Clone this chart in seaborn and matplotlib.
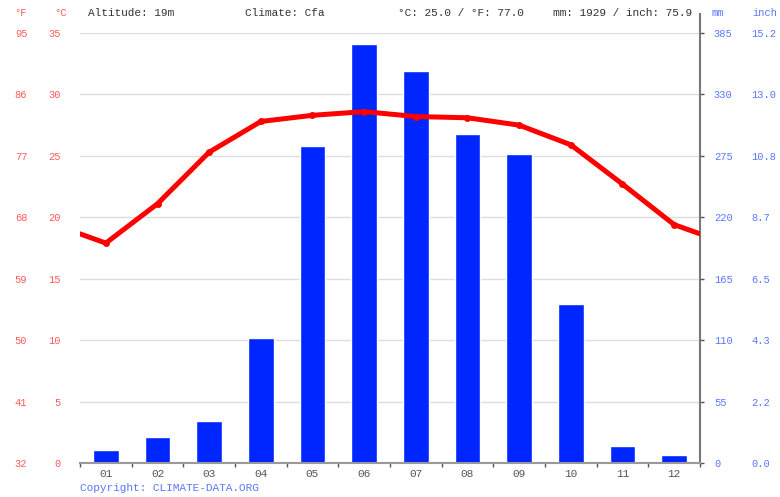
import numpy as np
import pandas as pd
import matplotlib
matplotlib.use("Agg")
import matplotlib.pyplot as plt
import matplotlib.ticker as mticker
import seaborn as sns

# climate chart data
months = ["01", "02", "03", "04", "05", "06", "07", "08", "09", "10", "11", "12"]
precip_mm = [12, 23, 38, 112, 284, 375, 351, 295, 277, 142, 15, 7]
temp_c = [17.9, 21.1, 25.3, 27.8, 28.3, 28.6, 28.2, 28.1, 27.5, 25.9, 22.7, 19.4]

c_ticks = [0, 5, 10, 15, 20, 25, 30, 35]
mm_ticks = [0, 55, 110, 165, 220, 275, 330, 385]

header_left = "Altitude: 19m"
header_climate = "Climate: Cfa"
header_temp = "°C: 25.0 / °F: 77.0"
header_rain = "mm: 1929 / inch: 75.9"
copyright_txt = "Copyright: CLIMATE-DATA.ORG"

RED = "#ff0000"
RED_TXT = "#ff5a5a"
BLUE = "#0026ff"
BLUE_TXT = "#5a78ff"
GRAY_TXT = "#555555"

sns.set_style("white")
plt.rcParams["font.family"] = ["Liberation Mono", "DejaVu Sans Mono"]
plt.rcParams["font.size"] = 8

fig = plt.figure(figsize=(7.8, 4.97), dpi=100)
ax = fig.add_axes([80 / 780, 34 / 497, 620 / 780, 430 / 497])
ax_t = ax.twinx()

df = pd.DataFrame({"month": months, "mm": precip_mm})
sns.barplot(data=df, x="month", y="mm", color=BLUE, saturation=1, width=0.5,
            ax=ax, zorder=2)
ax.set_xlim(-0.5, 11.5)
ax.set_ylim(0, 385)
ax.set_xlabel("")
ax.set_ylabel("")

# grid
ax.set_yticks(mm_ticks)
ax.yaxis.grid(True, color="#dddddd", lw=1)
ax.set_axisbelow(True)

# mm axis on right
ax.yaxis.tick_right()
ax.tick_params(axis="y", left=False, labelleft=False, right=True, labelright=True,
               length=3, width=1, color="#555555",
               labelcolor=BLUE_TXT, pad=7, labelsize=7.5)
ax.set_yticklabels([str(v) for v in mm_ticks])

# month ticks
ax.tick_params(axis="x", which="major", length=0, labelcolor=GRAY_TXT,
               labelsize=8, pad=4)
ax.set_xticks(np.arange(-0.5, 12, 1), minor=True)
ax.tick_params(axis="x", which="minor", bottom=True, length=3, width=1,
               color="#555555", direction="out")

for s in ["top", "left"]:
    ax.spines[s].set_visible(False)
ax.spines["bottom"].set_color("#999999")
ax.spines["bottom"].set_linewidth(1.5)
ax.spines["right"].set_color("#777777")
ax.spines["right"].set_linewidth(1.5)
ax.spines["right"].set_bounds(0, 402)

# temperature on twin axis (left)
edge = (temp_c[0] + temp_c[-1]) / 2
line_df = pd.DataFrame({"x": [-0.5] + list(range(12)) + [11.5],
                        "t": [edge] + temp_c + [edge]})
sns.lineplot(data=line_df, x="x", y="t", color=RED, lw=3.6, ax=ax_t,
             marker="o", markersize=5, markevery=list(range(1, 13)),
             markeredgewidth=0, zorder=3)
ax_t.set_ylim(0, 35)
ax_t.set_xlim(-0.5, 11.5)
ax_t.set_ylabel("")
ax_t.set_yticks(c_ticks)
ax_t.yaxis.tick_left()
ax_t.tick_params(axis="y", left=True, right=False, labelleft=True, labelright=False,
                 length=0, labelcolor=RED_TXT, pad=14, labelsize=7.5)
for s in ["top", "left", "right", "bottom"]:
    ax_t.spines[s].set_visible(False)

# °F column
sec_f = ax_t.secondary_yaxis(-0.085, functions=(lambda c: c * 9 / 5 + 32,
                                                 lambda f: (f - 32) * 5 / 9))
sec_f.set_yticks([c * 9 / 5 + 32 for c in c_ticks])
sec_f.yaxis.set_major_formatter(mticker.FormatStrFormatter("%d"))
sec_f.tick_params(length=0, pad=0, labelcolor=RED_TXT, labelsize=7.5)
sec_f.spines["left"].set_visible(False)

# inch column
sec_in = ax.secondary_yaxis(1.083, functions=(lambda m: m / 25.4,
                                               lambda i: i * 25.4))
sec_in.set_yticks([m / 25.4 for m in mm_ticks])
sec_in.yaxis.set_major_formatter(mticker.FormatStrFormatter("%.1f"))
sec_in.tick_params(length=0, pad=0, labelcolor=BLUE_TXT, labelsize=7.5)
sec_in.spines["right"].set_visible(False)

# header texts
y_head = 1 - 13 / 497
fig.text(27 / 780, y_head, "°F", color=RED_TXT, ha="right", va="center", fontsize=7.5)
fig.text(67 / 780, y_head, "°C", color=RED_TXT, ha="right", va="center", fontsize=7.5)
fig.text(88 / 780, y_head, header_left, color="#333333", va="center", fontsize=8)
fig.text(245 / 780, y_head, header_climate, color="#333333", va="center", fontsize=8)
fig.text(398 / 780, y_head, header_temp, color="#333333", va="center", fontsize=8)
fig.text(553 / 780, y_head, header_rain, color="#333333", va="center", fontsize=8)
fig.text(712 / 780, y_head, "mm", color=BLUE_TXT, va="center", fontsize=7.5)
fig.text(752 / 780, y_head, "inch", color=BLUE_TXT, va="center", fontsize=7.5)
fig.text(80 / 780, 1 - 488 / 497, copyright_txt, color=BLUE_TXT, va="center", fontsize=8)

fig.savefig("out.png", dpi=100)
